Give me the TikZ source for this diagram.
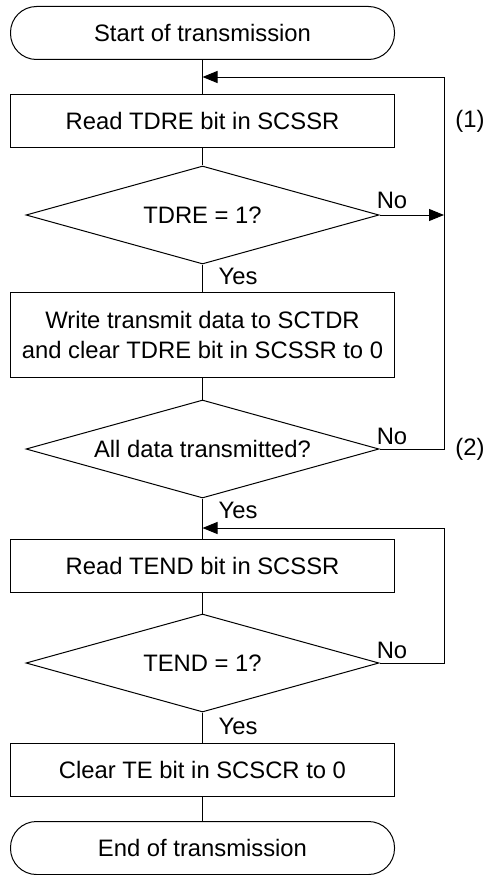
\documentclass[tikz,border=0pt]{standalone}
\usepackage{fontspec}
\setmainfont{Liberation Sans}
\usetikzlibrary{shapes.geometric,arrows.meta}
\begin{document}
\begin{tikzpicture}[x=1pt,y=-1pt,
  every node/.style={font=\fontsize{23.8}{30}\selectfont},
  line/.style={draw=black,line width=1pt},
  term/.style={line,rectangle,rounded corners=26pt,minimum width=384pt,minimum height=53pt,inner sep=0pt},
  proc/.style={line,rectangle,minimum width=384pt,minimum height=53pt,inner sep=0pt,align=center},
  dec/.style={line,diamond,aspect=4,minimum width=353pt,minimum height=98pt,inner sep=0pt},
  arr/.style={line,-{Triangle[length=15pt,width=12pt]}},
  lbl/.style={inner sep=0pt}]
\useasboundingbox (0,0) rectangle (489,875);
\node[term] (start) at (202.5,33) {Start of transmission};
\node[proc] (read1) at (202.5,120.5) {Read TDRE bit in SCSSR};
\node[dec] (d1) at (202.5,215) {TDRE = 1?};
\node[proc,minimum height=85pt] (write) at (202.5,334.5) {Write transmit data to SCTDR\\and clear TDRE bit in SCSSR to 0};
\node[dec] (d2) at (202.5,449) {All data transmitted?};
\node[proc] (read2) at (202.5,565.5) {Read TEND bit in SCSSR};
\node[dec] (d3) at (202.5,663) {TEND = 1?};
\node[proc] (clear) at (202.5,769.5) {Clear TE bit in SCSCR to 0};
\node[term] (end) at (202.5,848) {End of transmission};

\coordinate (j1) at (202.5,77);
\coordinate (r1) at (444,77);
\coordinate (j2) at (202.5,528);
\coordinate (r2) at (444,528);
\coordinate (m1) at (444,215);

\draw[line] (start) -- (read1);
\draw[line] (read1) -- (d1);
\draw[line] (d1) -- (write);
\draw[line] (write) -- (d2);
\draw[line] (d2) -- (read2);
\draw[line] (read2) -- (d3);
\draw[line] (d3) -- (clear);
\draw[line] (clear) -- (end);

\draw[arr] (d1.east) -- (m1);
\draw[arr] (d2.east) -| (r1) -- (j1);
\draw[arr] (d3.east) -| (r2) -- (j2);

\node[lbl] (no1) at (392,200) {No};
\node[lbl] (no2) at (392,436) {No};
\node[lbl] (no3) at (392,650) {No};
\node[lbl] (yes1) at (238,276) {Yes};
\node[lbl] (yes2) at (238,510) {Yes};
\node[lbl] (yes3) at (238,726) {Yes};
\node[lbl] (l1) at (470,121) {(1)};
\node[lbl] (l2) at (470,449) {(2)};
\end{tikzpicture}
\end{document}
